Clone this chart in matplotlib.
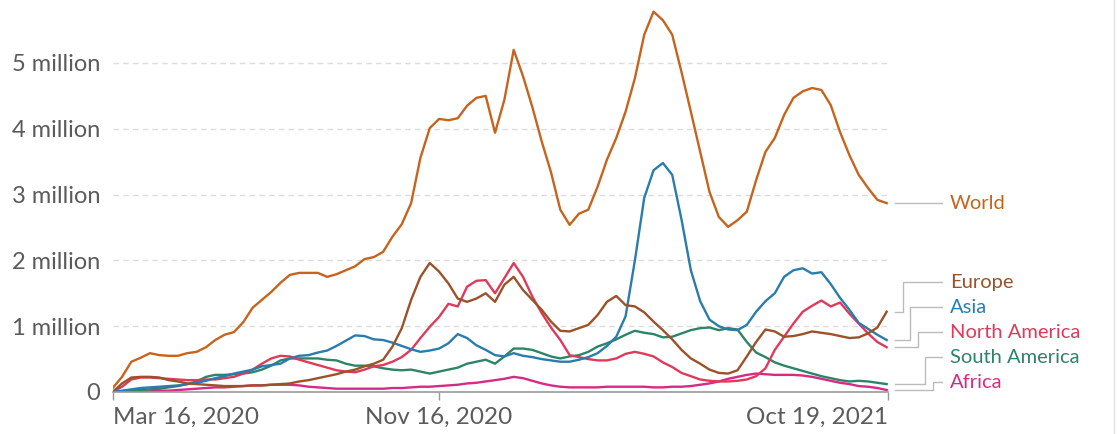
import numpy as np
import pandas as pd
import matplotlib
matplotlib.use("Agg")
import matplotlib.pyplot as plt
import matplotlib.transforms as mtransforms

plt.rcParams['font.family'] = ['Lato', 'DejaVu Sans']

# weekly new cases, millions, one point per week from Mar 16, 2020
dates = pd.date_range("2020-03-16", periods=84, freq="7D")

world = [0.06, 0.23, 0.46, 0.52, 0.59, 0.56, 0.55, 0.55, 0.59, 0.61,
         0.68, 0.79, 0.87, 0.91, 1.06, 1.28, 1.40, 1.52, 1.66, 1.78,
         1.81, 1.81, 1.81, 1.75, 1.79, 1.85, 1.91, 2.02, 2.05, 2.13,
         2.36, 2.55, 2.87, 3.56, 4.01, 4.15, 4.13, 4.16, 4.35, 4.47,
         4.50, 3.94, 4.44, 5.20, 4.80, 4.33, 3.81, 3.34, 2.77, 2.54,
         2.71, 2.77, 3.12, 3.53, 3.86, 4.26, 4.77, 5.43, 5.78, 5.65,
         5.43, 4.86, 4.26, 3.65, 3.04, 2.66, 2.51, 2.61, 2.74, 3.22,
         3.65, 3.86, 4.21, 4.47, 4.57, 4.62, 4.59, 4.36, 3.95, 3.60,
         3.30, 3.10, 2.92, 2.87]

europe = [0.0, 0.13, 0.22, 0.23, 0.23, 0.22, 0.18, 0.16, 0.13, 0.12,
          0.11, 0.10, 0.09, 0.09, 0.09, 0.10, 0.10, 0.11, 0.12, 0.13,
          0.16, 0.18, 0.21, 0.24, 0.27, 0.31, 0.34, 0.39, 0.43, 0.49,
          0.69, 0.97, 1.40, 1.75, 1.96, 1.83, 1.65, 1.42, 1.37, 1.42,
          1.50, 1.37, 1.63, 1.75, 1.55, 1.40, 1.25, 1.07, 0.93, 0.92,
          0.97, 1.02, 1.17, 1.37, 1.46, 1.32, 1.30, 1.21, 1.07, 0.94,
          0.80, 0.64, 0.51, 0.43, 0.34, 0.29, 0.28, 0.33, 0.54, 0.76,
          0.95, 0.92, 0.84, 0.85, 0.88, 0.92, 0.90, 0.88, 0.85, 0.82,
          0.83, 0.89, 0.98, 1.22]

asia = [0.0, 0.02, 0.04, 0.06, 0.07, 0.08, 0.09, 0.10, 0.12, 0.14,
        0.17, 0.21, 0.24, 0.28, 0.31, 0.34, 0.39, 0.41, 0.43, 0.51,
        0.55, 0.56, 0.60, 0.63, 0.70, 0.78, 0.86, 0.85, 0.80, 0.79,
        0.75, 0.70, 0.65, 0.61, 0.63, 0.66, 0.74, 0.88, 0.82, 0.71,
        0.64, 0.56, 0.54, 0.59, 0.55, 0.53, 0.50, 0.48, 0.46, 0.46,
        0.49, 0.53, 0.59, 0.70, 0.84, 1.15, 2.00, 2.95, 3.37, 3.48,
        3.30, 2.62, 1.85, 1.38, 1.10, 1.00, 0.95, 0.94, 1.02, 1.22,
        1.38, 1.50, 1.75, 1.85, 1.88, 1.80, 1.82, 1.64, 1.43, 1.25,
        1.05, 0.96, 0.87, 0.79]

north_america = [0.0, 0.08, 0.19, 0.22, 0.22, 0.21, 0.20, 0.19, 0.18, 0.18,
                 0.19, 0.19, 0.21, 0.23, 0.28, 0.34, 0.43, 0.51, 0.55, 0.54,
                 0.49, 0.45, 0.41, 0.37, 0.33, 0.31, 0.30, 0.34, 0.39, 0.41,
                 0.46, 0.53, 0.64, 0.82, 0.99, 1.14, 1.34, 1.30, 1.60, 1.69,
                 1.70, 1.50, 1.73, 1.96, 1.75, 1.45, 1.20, 0.98, 0.79, 0.56,
                 0.53, 0.50, 0.48, 0.48, 0.51, 0.58, 0.61, 0.58, 0.54, 0.45,
                 0.38, 0.29, 0.24, 0.19, 0.17, 0.16, 0.16, 0.17, 0.19, 0.24,
                 0.36, 0.64, 0.84, 1.04, 1.22, 1.31, 1.39, 1.30, 1.36, 1.19,
                 1.04, 0.89, 0.76, 0.68]

south_america = [0.0, 0.01, 0.02, 0.03, 0.04, 0.05, 0.07, 0.09, 0.12, 0.16,
                 0.23, 0.26, 0.26, 0.27, 0.28, 0.30, 0.34, 0.40, 0.48, 0.51,
                 0.51, 0.51, 0.51, 0.49, 0.48, 0.43, 0.40, 0.40, 0.39, 0.36,
                 0.34, 0.33, 0.34, 0.31, 0.28, 0.31, 0.34, 0.37, 0.43, 0.46,
                 0.49, 0.43, 0.54, 0.66, 0.66, 0.64, 0.59, 0.54, 0.51, 0.54,
                 0.56, 0.61, 0.69, 0.74, 0.80, 0.87, 0.93, 0.90, 0.88, 0.83,
                 0.84, 0.89, 0.94, 0.97, 0.98, 0.94, 0.97, 0.95, 0.76, 0.60,
                 0.53, 0.45, 0.40, 0.36, 0.32, 0.28, 0.24, 0.21, 0.18, 0.16,
                 0.17, 0.16, 0.14, 0.12]

africa = [0.0, 0.0, 0.01, 0.01, 0.01, 0.02, 0.02, 0.03, 0.04, 0.05,
          0.06, 0.07, 0.07, 0.08, 0.09, 0.10, 0.10, 0.11, 0.11, 0.11,
          0.10, 0.08, 0.07, 0.06, 0.05, 0.05, 0.05, 0.05, 0.05, 0.05,
          0.06, 0.06, 0.07, 0.08, 0.08, 0.09, 0.10, 0.11, 0.13, 0.14,
          0.16, 0.18, 0.20, 0.23, 0.21, 0.17, 0.13, 0.10, 0.08, 0.07,
          0.07, 0.07, 0.07, 0.08, 0.08, 0.08, 0.08, 0.08, 0.07, 0.07,
          0.08, 0.08, 0.09, 0.11, 0.13, 0.16, 0.20, 0.23, 0.26, 0.28,
          0.27, 0.26, 0.26, 0.26, 0.25, 0.23, 0.20, 0.17, 0.14, 0.12,
          0.09, 0.08, 0.06, 0.03]

names = ["World", "Europe", "Asia", "North America", "South America", "Africa"]
colors = ["#c6631c", "#9b5229", "#2a7cac", "#e03a5b", "#2d8468", "#d42c86"]
series = [world, europe, asia, north_america, south_america, africa]
# where the end labels sit (millions), spaced so they don't collide
label_y = [2.87, 1.67, 1.29, 0.91, 0.53, 0.15]
elbow_x = [None, 1.0197, 1.0284, 1.039, 1.0477, 1.0584]

fig = plt.figure(figsize=(11.17, 4.34), dpi=100)
ax = fig.add_axes([0.1009, 0.0968, 0.6941, 0.8945])

# draw world last so it sits on top
for i in [5, 4, 3, 2, 1, 0]:
    ax.plot(dates, series[i], color=colors[i], lw=1.7, solid_joinstyle="round")

ax.set_xlim(pd.Timestamp("2020-03-16"), pd.Timestamp("2021-10-19"))
ax.set_ylim(0, 5.9)

ax.set_yticks([0, 1, 2, 3, 4, 5])
ax.set_yticklabels(["0", "1 million", "2 million", "3 million", "4 million", "5 million"])
for yv in [1, 2, 3, 4, 5]:
    ax.axhline(yv, color="#dcdcdc", lw=1, ls=(0, (4, 3)), zorder=0)

xt = [pd.Timestamp("2020-03-16"), pd.Timestamp("2020-11-16"), pd.Timestamp("2021-10-19")]
ax.set_xticks(xt)
ax.set_xticklabels(["Mar 16, 2020", "Nov 16, 2020", "Oct 19, 2021"])
tl = ax.get_xticklabels()
tl[0].set_ha("left")
tl[2].set_ha("right")

ax.tick_params(axis="y", length=0, pad=9, labelsize=17, labelcolor="#5b5b5b")
ax.tick_params(axis="x", length=6, width=1, color="#999999", pad=5,
               labelsize=17.5, labelcolor="#5b5b5b")

for s in ["top", "right", "left"]:
    ax.spines[s].set_visible(False)
ax.spines["bottom"].set_color("#999999")
ax.spines["bottom"].set_linewidth(1.2)

# end labels with connector lines
tr = mtransforms.blended_transform_factory(ax.transAxes, ax.transData)
x0, x_end, x_txt = 1.009, 1.0693, 1.0798
for i, name in enumerate(names):
    yl = series[i][-1]
    if elbow_x[i] is None:
        xs = [x0, x_end]
        ys = [yl, label_y[i]]
    else:
        xs = [x0, elbow_x[i], elbow_x[i], x_end]
        ys = [yl, yl, label_y[i], label_y[i]]
    ax.plot(xs, ys, transform=tr, color="#bbbbbb", lw=1, clip_on=False)
    ax.text(x_txt, label_y[i], name, transform=tr, color=colors[i],
            fontsize=14.5, va="center", ha="left")

# thin frame edge on the right
fig.add_artist(plt.Line2D([0.9973, 0.9973], [0, 1], color="#e3e3e3", lw=1))

fig.savefig("out.png", dpi=100)
